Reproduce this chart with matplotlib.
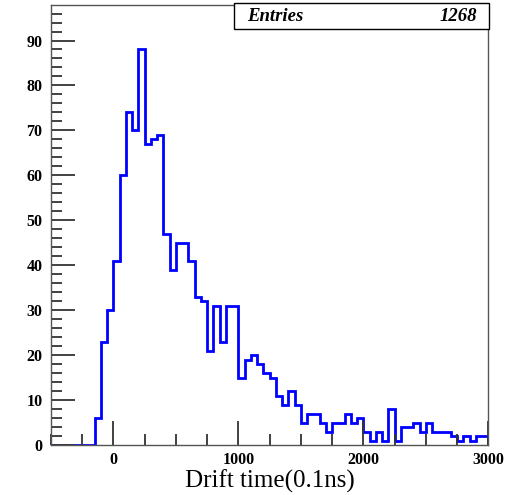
import numpy as np
import matplotlib
matplotlib.use("Agg")
import matplotlib.pyplot as plt
from matplotlib.ticker import MultipleLocator
from matplotlib.patches import Rectangle

# Drift-time histogram: 70 bins of 50 (0.1 ns) from -500 to 3000
bin_low = -500
bin_width = 50
counts = [
    0, 0, 0, 0, 0, 0, 0,            # -500 .. -150
    6, 23, 30,                      # -150 .. 0
    41, 60, 74, 70, 88, 67, 68, 69, # 0 .. 400
    47, 39, 45, 45, 41, 33, 32, 21, # 400 .. 800
    31, 23, 31, 31, 15, 19, 20, 18, # 800 .. 1200
    16, 15, 11, 9, 12, 9, 5, 7,     # 1200 .. 1600
    7, 5, 3, 5, 5, 7, 5, 6,         # 1600 .. 2000
    3, 1, 3, 1, 8, 1, 4, 4,         # 2000 .. 2400
    5, 3, 5, 3, 3, 3, 2, 1,         # 2400 .. 2800
    2, 1, 2, 2,                     # 2800 .. 3000
]
entries_label = "Entries"
entries_value = "1268"
x_label = "Drift time(0.1ns)"
x_ticks = [0, 1000, 2000, 3000]
y_ticks = [0, 10, 20, 30, 40, 50, 60, 70, 80, 90]

edges = bin_low + bin_width * np.arange(len(counts) + 1)

fig = plt.figure(figsize=(5.08, 4.95), dpi=100)
ax = fig.add_axes([0.1, 0.101, 0.8612, 0.8889])

ax.stairs(counts, edges, baseline=0, fill=False, color=(0, 0, 1), linewidth=2.0)

ax.set_xlim(edges[0], edges[-1])
ax.set_ylim(0, 97.9)

serif = ["Liberation Serif", "DejaVu Serif"]
ax.set_xticks(x_ticks)
ax.set_yticks(y_ticks)
ax.xaxis.set_minor_locator(MultipleLocator(250))
ax.yaxis.set_minor_locator(MultipleLocator(2))
ax.tick_params(which="both", direction="in", top=False, right=False,
               color="#333333", width=1.3)
ax.tick_params(which="major", length=17)
ax.tick_params(which="minor", length=8)
ax.tick_params(axis="y", pad=6)
ax.tick_params(axis="x", pad=5)
for lab in ax.get_xticklabels() + ax.get_yticklabels():
    lab.set_fontfamily(serif)
    lab.set_fontweight("bold")
    lab.set_fontsize(11.5)

for sp in ax.spines.values():
    sp.set_color("#555555")
    sp.set_linewidth(1.0)

ax.set_xlabel(x_label, fontfamily=serif, fontsize=18, labelpad=1)

# statistics box across the top right
box_l, box_b, box_w, box_h = 234 / 508, 1 - 29 / 495, 255 / 508, 26 / 495
fig.patches.append(Rectangle((box_l + 0.002, box_b - 0.003), box_w, box_h,
                             transform=fig.transFigure, facecolor="black",
                             edgecolor="none", zorder=5))
fig.patches.append(Rectangle((box_l, box_b), box_w, box_h,
                             transform=fig.transFigure, facecolor="white",
                             edgecolor="black", linewidth=1.0, zorder=6))
fig.text(box_l + 13 / 508, box_b + box_h / 2, entries_label, ha="left", va="center",
         fontfamily=serif, fontweight="bold", fontstyle="italic", fontsize=13.5, zorder=7)
fig.text(box_l + box_w - 12 / 508, box_b + box_h / 2, entries_value, ha="right",
         va="center", fontfamily=serif, fontweight="bold", fontstyle="italic",
         fontsize=13.5, zorder=7)

fig.savefig("out.png", dpi=100)
